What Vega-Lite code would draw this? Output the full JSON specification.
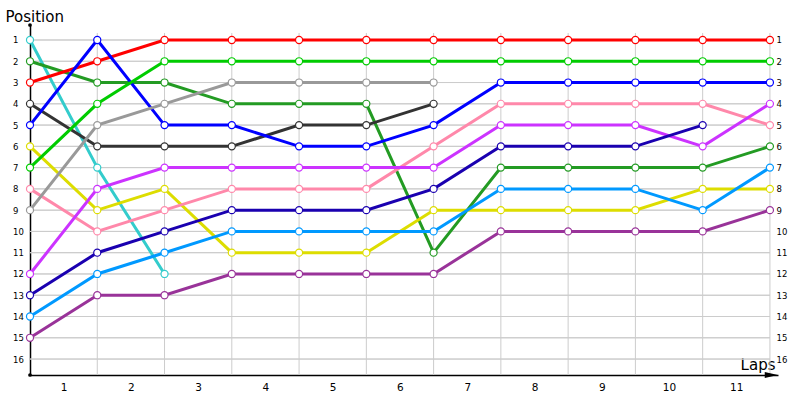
{
  "$schema": "https://vega.github.io/schema/vega-lite/v6.json",
  "autosize": {"type": "none"},
  "padding": {"left": 30, "top": 25, "right": 22, "bottom": 25},
  "width": 748,
  "height": 350,
  "background": "white",
  "config": {
    "view": {"stroke": null},
    "axis": {"labelFont": "DejaVu Sans", "titleFont": "DejaVu Sans", "labelColor": "#000000", "titleColor": "#000000", "titleFontWeight": "normal"}
  },
  "datasets": {
    "laps": [
      {"driver": "D1", "lap": 0, "pos": 1}, {"driver": "D1", "lap": 1, "pos": 7}, {"driver": "D1", "lap": 2, "pos": 12},

      {"driver": "D2", "lap": 0, "pos": 2}, {"driver": "D2", "lap": 1, "pos": 3}, {"driver": "D2", "lap": 2, "pos": 3},
      {"driver": "D2", "lap": 3, "pos": 4}, {"driver": "D2", "lap": 4, "pos": 4}, {"driver": "D2", "lap": 5, "pos": 4},
      {"driver": "D2", "lap": 6, "pos": 11}, {"driver": "D2", "lap": 7, "pos": 7}, {"driver": "D2", "lap": 8, "pos": 7},
      {"driver": "D2", "lap": 9, "pos": 7}, {"driver": "D2", "lap": 10, "pos": 7}, {"driver": "D2", "lap": 11, "pos": 6},

      {"driver": "D3", "lap": 0, "pos": 3}, {"driver": "D3", "lap": 1, "pos": 2}, {"driver": "D3", "lap": 2, "pos": 1},
      {"driver": "D3", "lap": 3, "pos": 1}, {"driver": "D3", "lap": 4, "pos": 1}, {"driver": "D3", "lap": 5, "pos": 1},
      {"driver": "D3", "lap": 6, "pos": 1}, {"driver": "D3", "lap": 7, "pos": 1}, {"driver": "D3", "lap": 8, "pos": 1},
      {"driver": "D3", "lap": 9, "pos": 1}, {"driver": "D3", "lap": 10, "pos": 1}, {"driver": "D3", "lap": 11, "pos": 1},

      {"driver": "D4", "lap": 0, "pos": 4}, {"driver": "D4", "lap": 1, "pos": 6}, {"driver": "D4", "lap": 2, "pos": 6},
      {"driver": "D4", "lap": 3, "pos": 6}, {"driver": "D4", "lap": 4, "pos": 5}, {"driver": "D4", "lap": 5, "pos": 5},
      {"driver": "D4", "lap": 6, "pos": 4},

      {"driver": "D5", "lap": 0, "pos": 5}, {"driver": "D5", "lap": 1, "pos": 1}, {"driver": "D5", "lap": 2, "pos": 5},
      {"driver": "D5", "lap": 3, "pos": 5}, {"driver": "D5", "lap": 4, "pos": 6}, {"driver": "D5", "lap": 5, "pos": 6},
      {"driver": "D5", "lap": 6, "pos": 5}, {"driver": "D5", "lap": 7, "pos": 3}, {"driver": "D5", "lap": 8, "pos": 3},
      {"driver": "D5", "lap": 9, "pos": 3}, {"driver": "D5", "lap": 10, "pos": 3}, {"driver": "D5", "lap": 11, "pos": 3},

      {"driver": "D6", "lap": 0, "pos": 6}, {"driver": "D6", "lap": 1, "pos": 9}, {"driver": "D6", "lap": 2, "pos": 8},
      {"driver": "D6", "lap": 3, "pos": 11}, {"driver": "D6", "lap": 4, "pos": 11}, {"driver": "D6", "lap": 5, "pos": 11},
      {"driver": "D6", "lap": 6, "pos": 9}, {"driver": "D6", "lap": 7, "pos": 9}, {"driver": "D6", "lap": 8, "pos": 9},
      {"driver": "D6", "lap": 9, "pos": 9}, {"driver": "D6", "lap": 10, "pos": 8}, {"driver": "D6", "lap": 11, "pos": 8},

      {"driver": "D7", "lap": 0, "pos": 7}, {"driver": "D7", "lap": 1, "pos": 4}, {"driver": "D7", "lap": 2, "pos": 2},
      {"driver": "D7", "lap": 3, "pos": 2}, {"driver": "D7", "lap": 4, "pos": 2}, {"driver": "D7", "lap": 5, "pos": 2},
      {"driver": "D7", "lap": 6, "pos": 2}, {"driver": "D7", "lap": 7, "pos": 2}, {"driver": "D7", "lap": 8, "pos": 2},
      {"driver": "D7", "lap": 9, "pos": 2}, {"driver": "D7", "lap": 10, "pos": 2}, {"driver": "D7", "lap": 11, "pos": 2},

      {"driver": "D8", "lap": 0, "pos": 8}, {"driver": "D8", "lap": 1, "pos": 10}, {"driver": "D8", "lap": 2, "pos": 9},
      {"driver": "D8", "lap": 3, "pos": 8}, {"driver": "D8", "lap": 4, "pos": 8}, {"driver": "D8", "lap": 5, "pos": 8},
      {"driver": "D8", "lap": 6, "pos": 6}, {"driver": "D8", "lap": 7, "pos": 4}, {"driver": "D8", "lap": 8, "pos": 4},
      {"driver": "D8", "lap": 9, "pos": 4}, {"driver": "D8", "lap": 10, "pos": 4}, {"driver": "D8", "lap": 11, "pos": 5},

      {"driver": "D9", "lap": 0, "pos": 9}, {"driver": "D9", "lap": 1, "pos": 5}, {"driver": "D9", "lap": 2, "pos": 4},
      {"driver": "D9", "lap": 3, "pos": 3}, {"driver": "D9", "lap": 4, "pos": 3}, {"driver": "D9", "lap": 5, "pos": 3},
      {"driver": "D9", "lap": 6, "pos": 3},

      {"driver": "D12", "lap": 0, "pos": 12}, {"driver": "D12", "lap": 1, "pos": 8}, {"driver": "D12", "lap": 2, "pos": 7},
      {"driver": "D12", "lap": 3, "pos": 7}, {"driver": "D12", "lap": 4, "pos": 7}, {"driver": "D12", "lap": 5, "pos": 7},
      {"driver": "D12", "lap": 6, "pos": 7}, {"driver": "D12", "lap": 7, "pos": 5}, {"driver": "D12", "lap": 8, "pos": 5},
      {"driver": "D12", "lap": 9, "pos": 5}, {"driver": "D12", "lap": 10, "pos": 6}, {"driver": "D12", "lap": 11, "pos": 4},

      {"driver": "D13", "lap": 0, "pos": 13}, {"driver": "D13", "lap": 1, "pos": 11}, {"driver": "D13", "lap": 2, "pos": 10},
      {"driver": "D13", "lap": 3, "pos": 9}, {"driver": "D13", "lap": 4, "pos": 9}, {"driver": "D13", "lap": 5, "pos": 9},
      {"driver": "D13", "lap": 6, "pos": 8}, {"driver": "D13", "lap": 7, "pos": 6}, {"driver": "D13", "lap": 8, "pos": 6},
      {"driver": "D13", "lap": 9, "pos": 6}, {"driver": "D13", "lap": 10, "pos": 5},

      {"driver": "D14", "lap": 0, "pos": 14}, {"driver": "D14", "lap": 1, "pos": 12}, {"driver": "D14", "lap": 2, "pos": 11},
      {"driver": "D14", "lap": 3, "pos": 10}, {"driver": "D14", "lap": 4, "pos": 10}, {"driver": "D14", "lap": 5, "pos": 10},
      {"driver": "D14", "lap": 6, "pos": 10}, {"driver": "D14", "lap": 7, "pos": 8}, {"driver": "D14", "lap": 8, "pos": 8},
      {"driver": "D14", "lap": 9, "pos": 8}, {"driver": "D14", "lap": 10, "pos": 9}, {"driver": "D14", "lap": 11, "pos": 7},

      {"driver": "D15", "lap": 0, "pos": 15}, {"driver": "D15", "lap": 1, "pos": 13}, {"driver": "D15", "lap": 2, "pos": 13},
      {"driver": "D15", "lap": 3, "pos": 12}, {"driver": "D15", "lap": 4, "pos": 12}, {"driver": "D15", "lap": 5, "pos": 12},
      {"driver": "D15", "lap": 6, "pos": 12}, {"driver": "D15", "lap": 7, "pos": 10}, {"driver": "D15", "lap": 8, "pos": 10},
      {"driver": "D15", "lap": 9, "pos": 10}, {"driver": "D15", "lap": 10, "pos": 10}, {"driver": "D15", "lap": 11, "pos": 9}
    ],
    "rows": [
      {"pos": 1}, {"pos": 2}, {"pos": 3}, {"pos": 4}, {"pos": 5}, {"pos": 6}, {"pos": 7}, {"pos": 8},
      {"pos": 9}, {"pos": 10}, {"pos": 11}, {"pos": 12}, {"pos": 13}, {"pos": 14}, {"pos": 15}, {"pos": 16}
    ],
    "cols": [
      {"lap": 1}, {"lap": 2}, {"lap": 3}, {"lap": 4}, {"lap": 5}, {"lap": 6},
      {"lap": 7}, {"lap": 8}, {"lap": 9}, {"lap": 10}, {"lap": 11}
    ]
  },
  "resolve": {"axis": {"x": "independent", "y": "independent"}},
  "layer": [
    {
      "data": {"name": "rows"},
      "mark": {"type": "rule", "color": "#cccccc", "strokeWidth": 1},
      "encoding": {
        "x": {"datum": 0, "type": "quantitative", "scale": {"domain": [0, 11.12], "nice": false, "zero": false}, "axis": null},
        "x2": {"datum": 11},
        "y": {
          "field": "pos", "type": "quantitative",
          "scale": {"domain": [0.295, 16.75], "reverse": true, "nice": false, "zero": false},
          "axis": {
            "orient": "left", "values": [1, 2, 3, 4, 5, 6, 7, 8, 9, 10, 11, 12, 13, 14, 15, 16],
            "grid": false, "ticks": false, "tickSize": 0, "labelAlign": "left", "labelPadding": 17.5,
            "labelFontSize": 8.5, "labelBaseline": "middle",
            "domainColor": "#000000", "domainWidth": 1.5,
            "title": "Position", "titleFontSize": 15, "titleAngle": 0, "titleAlign": "left",
            "titleBaseline": "alphabetic", "titleX": -25, "titleY": -4
          }
        }
      }
    },
    {
      "data": {"name": "rows"},
      "mark": {"type": "rule", "color": "#cccccc", "strokeWidth": 1},
      "encoding": {
        "x": {"datum": 0, "type": "quantitative", "scale": {"domain": [0, 11.12], "nice": false, "zero": false}, "axis": null},
        "x2": {"datum": 11},
        "y": {
          "field": "pos", "type": "quantitative",
          "scale": {"domain": [0.295, 16.75], "reverse": true, "nice": false, "zero": false},
          "axis": {
            "orient": "right", "offset": -8, "values": [1, 2, 3, 4, 5, 6, 7, 8, 9, 10, 11, 12, 13, 14, 15, 16],
            "grid": false, "ticks": false, "tickSize": 0, "domain": false, "labelAlign": "left", "labelPadding": 6,
            "labelFontSize": 8.5, "labelBaseline": "middle", "title": null
          }
        }
      }
    },
    {
      "data": {"name": "cols"},
      "mark": {"type": "rule", "color": "#cccccc", "strokeWidth": 1},
      "encoding": {
        "x": {
          "field": "lap", "type": "quantitative",
          "scale": {"domain": [0, 11.12], "nice": false, "zero": false},
          "axis": {
            "orient": "bottom",
            "values": [0.5, 1.5, 2.5, 3.5, 4.5, 5.5, 6.5, 7.5, 8.5, 9.5, 10.5],
            "labelExpr": "datum.value + 0.5", "grid": false, "ticks": false, "tickSize": 0,
            "labelPadding": 7, "labelFontSize": 10.5,
            "domainColor": "#000000", "domainWidth": 1.5,
            "title": "Laps", "titleFontSize": 15, "titleAlign": "right", "titleBaseline": "alphabetic",
            "titleX": 745, "titleY": -6
          }
        },
        "y": {"datum": 0.67, "type": "quantitative", "scale": {"domain": [0.295, 16.75], "reverse": true, "nice": false, "zero": false}, "axis": null},
        "y2": {"datum": 16.75}
      }
    },
    {
      "data": {"name": "laps"},
      "mark": {"type": "line", "strokeWidth": 3},
      "encoding": {
        "x": {"field": "lap", "type": "quantitative", "scale": {"domain": [0, 11.12], "nice": false, "zero": false}, "axis": null},
        "y": {"field": "pos", "type": "quantitative", "scale": {"domain": [0.295, 16.75], "reverse": true, "nice": false, "zero": false}, "axis": null},
        "color": {
          "field": "driver", "type": "nominal", "legend": null,
          "scale": {
            "domain": ["D1", "D2", "D3", "D4", "D5", "D6", "D7", "D8", "D9", "D12", "D13", "D14", "D15"],
            "range": ["#33cccc", "#239b23", "#ff0000", "#333333", "#0000ff", "#dddd00", "#00cc00", "#ff88aa", "#999999", "#cc33ff", "#1a00b0", "#0099ff", "#993399"]
          }
        },
        "order": {"field": "lap"}
      }
    },
    {
      "data": {"name": "laps"},
      "mark": {"type": "point", "filled": false, "fill": "white", "fillOpacity": 1, "opacity": 1, "size": 50, "strokeWidth": 1.2},
      "encoding": {
        "x": {"field": "lap", "type": "quantitative", "scale": {"domain": [0, 11.12], "nice": false, "zero": false}, "axis": null},
        "y": {"field": "pos", "type": "quantitative", "scale": {"domain": [0.295, 16.75], "reverse": true, "nice": false, "zero": false}, "axis": null},
        "stroke": {
          "field": "driver", "type": "nominal", "legend": null,
          "scale": {
            "domain": ["D1", "D2", "D3", "D4", "D5", "D6", "D7", "D8", "D9", "D12", "D13", "D14", "D15"],
            "range": ["#33cccc", "#239b23", "#ff0000", "#333333", "#0000ff", "#dddd00", "#00cc00", "#ff88aa", "#999999", "#cc33ff", "#1a00b0", "#0099ff", "#993399"]
          }
        }
      }
    },
    {
      "data": {"values": [{}]},
      "mark": {"type": "point", "filled": true, "color": "#000000", "opacity": 1, "size": 14},
      "encoding": {
        "x": {"datum": 0, "type": "quantitative", "scale": {"domain": [0, 11.12], "nice": false, "zero": false}, "axis": null},
        "y": {"datum": 0.295, "type": "quantitative", "scale": {"domain": [0.295, 16.75], "reverse": true, "nice": false, "zero": false}, "axis": null}
      }
    },
    {
      "data": {"values": [{}]},
      "mark": {"type": "point", "filled": true, "color": "#000000", "opacity": 1, "size": 14},
      "encoding": {
        "x": {"datum": 0, "type": "quantitative", "scale": {"domain": [0, 11.12], "nice": false, "zero": false}, "axis": null},
        "y": {"datum": 16.75, "type": "quantitative", "scale": {"domain": [0.295, 16.75], "reverse": true, "nice": false, "zero": false}, "axis": null}
      }
    },
    {
      "data": {"values": [{}]},
      "mark": {"type": "point", "filled": true, "color": "#000000", "opacity": 1, "size": 169, "shape": "M-1,-0.45L1,0L-1,0.45Z"},
      "encoding": {
        "x": {"datum": 11.02, "type": "quantitative", "scale": {"domain": [0, 11.12], "nice": false, "zero": false}, "axis": null},
        "y": {"datum": 16.75, "type": "quantitative", "scale": {"domain": [0.295, 16.75], "reverse": true, "nice": false, "zero": false}, "axis": null}
      }
    }
  ]
}
